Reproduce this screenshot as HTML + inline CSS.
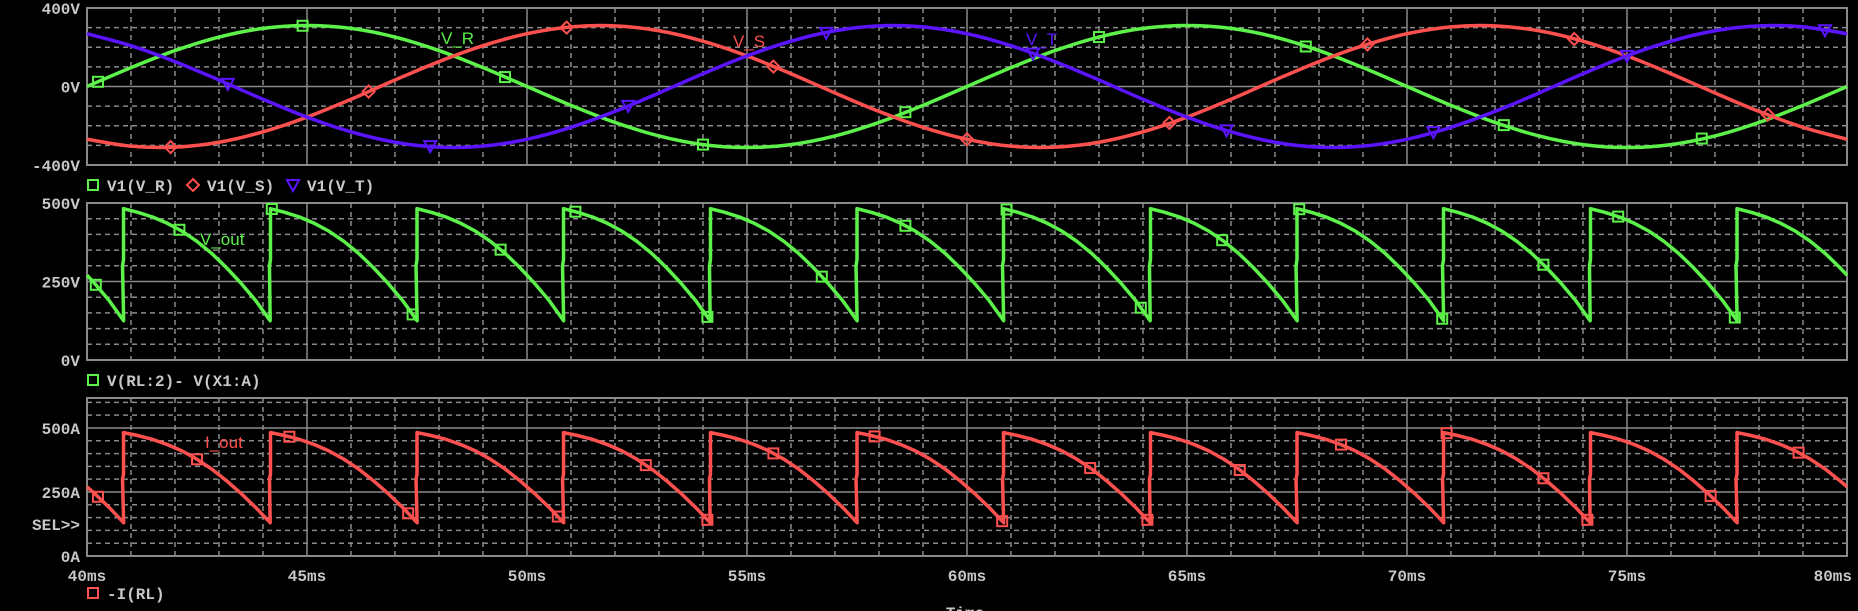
<!DOCTYPE html>
<html><head><meta charset="utf-8"><style>
html,body{margin:0;padding:0;background:#000;}
svg{display:block;}
text{font-family:"Liberation Mono",monospace;font-weight:bold;}
</style></head><body>
<svg id="chart" width="1858" height="611" xmlns="http://www.w3.org/2000/svg">
<rect width="1858" height="611" fill="#000"/>
</svg>
<script>
// ---- data ----
const tStart = 40, tEnd = 80;
const sineTimes = [0,1,2,3,4,5,6,7,8,9,10,11,12,13,14,15,16,17,18,19,20,21,22,23,24,25,26,27,28,29,30,31,32,33,34,35,36,37,38,39,40];
const vR = [0,96,183,252,296,311,296,252,183,96,0,-96,-183,-252,-296,-311,-296,-252,-183,-96,0,96,183,252,296,311,296,252,183,96,0,-96,-183,-252,-296,-311,-296,-252,-183,-96,0];
const vS = [-269,-304,-309,-284,-231,-156,-65,33,127,208,269,304,309,284,231,156,65,-33,-127,-208,-269,-304,-309,-284,-231,-156,-65,33,127,208,269,304,309,284,231,156,65,-33,-127,-208,-269];
const vT = [269,208,127,33,-65,-156,-231,-284,-309,-304,-269,-208,-127,-33,65,156,231,284,309,304,269,208,127,33,-65,-156,-231,-284,-309,-304,-269,-208,-127,-33,65,156,231,284,309,304,269];
const markR = [40.25,44.9,49.5,54,58.6,63,67.7,72.2,76.7];
const markS = [41.9,46.4,50.9,55.6,60,64.6,69.1,73.8,78.2];
const markT = [43.2,47.8,52.3,56.8,61.5,65.9,70.6,75,79.5];
const pulseTimes = [37.5,40.83,44.17,47.5,50.83,54.17,57.5,60.83,64.17,67.5,70.83,74.17,77.5];
const profOffsets = [0,0.333,0.667,1,1.333,1.667,2,2.333,2.667,3,3.333];
const voutProfile = [482,470,455,435,410,378,340,295,245,190,125];
const ioutProfile = [482,470,455,435,410,378,340,295,245,190,130];
const markVout = [40.2,42.1,44.2,47.4,49.4,51.1,54.1,56.7,58.6,60.9,63.95,65.8,67.55,70.8,73.1,74.8,77.45];
const markIout = [40.25,42.5,44.6,47.3,50.7,52.7,54.1,55.6,57.9,60.8,62.8,64.1,66.2,68.5,70.9,73.1,74.1,76.9,78.9];
const yTicks1 = [400,0,-400], yTickLbl1 = ["400V","0V","-400V"];
const yTicks2 = [500,250,0], yTickLbl2 = ["500V","250V","0V"];
const yTicks3 = [500,250,0], yTickLbl3 = ["500A","250A","0A"];
const xTicks = [40,45,50,55,60,65,70,75,80];

// ---- layout ----
const NS="http://www.w3.org/2000/svg", svg=document.getElementById('chart');
const X0=87, X1=1847;
const panels=[
 {top:8,bot:165,min:-400,max:400,step:100,solid:[0]},
 {top:203,bot:360,min:0,max:500,step:50,solid:[0,250,500]},
 {top:398,bot:556,min:0,max:617,step:50,solid:[0,250,500]}
];
const xs=t=>X0+(t-tStart)/(tEnd-tStart)*(X1-X0);
function ys(p,v){return p.bot-(v-p.min)/(p.max-p.min)*(p.bot-p.top);}
function el(tag,attrs,parent){const e=document.createElementNS(NS,tag);for(const k in attrs)e.setAttribute(k,attrs[k]);(parent||svg).appendChild(e);return e;}
const GRID="#8a8a8a", TXT="#c8c8c8";
const GREEN="#5cf24a", RED="#ff5050", BLUE="#5a14ff";

panels.forEach((p,i)=>{
  const g=el('g',{});
  
  
  for(let t=41;t<80;t++){ if(t%5===0) continue;
    const l=el('line',{x1:xs(t),x2:xs(t),y1:p.top,y2:p.bot,stroke:GRID,'stroke-width':1.5,'stroke-dasharray':'5,4'},g);
    
    
  }
  for(let t=45;t<80;t+=5){
    const l=el('line',{x1:xs(t),x2:xs(t),y1:p.top,y2:p.bot,stroke:GRID,'stroke-width':1.5},g);
    
    
  }
  for(let v=p.min;v<=p.max;v+=p.step){
    const y=ys(p,v); if(y<p.top+2||y>p.bot-2) continue;
    const solid=p.solid.includes(v);
    const l=el('line',{x1:X0,x2:X1,y1:y,y2:y,stroke:GRID,'stroke-width':1.5,'stroke-dasharray':solid?'none':'5,4'},g);
    
    
  }
  const r=el('rect',{x:X0,y:p.top,width:X1-X0,height:p.bot-p.top,fill:'none',stroke:GRID,'stroke-width':2},g);
  
  
});
function ylabels(p,ticks,lbls){
  ticks.forEach((v,i)=>{
    const t=el('text',{x:80,y:ys(p,v)+6,'text-anchor':'end','font-size':16,fill:TXT});
    t.textContent=lbls[i];
    
    
  });
}
ylabels(panels[0],yTicks1,yTickLbl1);ylabels(panels[1],yTicks2,yTickLbl2);ylabels(panels[2],yTicks3,yTickLbl3);
{const t=el('text',{x:80,y:ys(panels[2],0)-26,'text-anchor':'end','font-size':16,fill:TXT});t.textContent='SEL>>';

}
xTicks.forEach((v,i)=>{
  const last=i===xTicks.length-1;
  const t=el('text',{x:last?1852:xs(v),y:581,'text-anchor':last?'end':'middle','font-size':16,fill:TXT});
  t.textContent=v+'ms';
  
  
});
{const t=el('text',{x:965,y:618,'text-anchor':'middle','font-size':16,fill:TXT});t.textContent='Time';

}

function interp(ts,vs,t){for(let i=0;i<ts.length-1;i++){if(t>=ts[i]&&t<=ts[i+1]){const f=(t-ts[i])/(ts[i+1]-ts[i]);return vs[i]+f*(vs[i+1]-vs[i]);}}return vs[vs.length-1];}
function smoothPath(p,ts,vs){
  const pts=ts.map((t,i)=>[xs(tStart+t),ys(p,vs[i])]);
  let d='M'+pts[0][0]+','+pts[0][1];
  for(let i=0;i<pts.length-1;i++){
    const p0=pts[Math.max(0,i-1)],p1=pts[i],p2=pts[i+1],p3=pts[Math.min(pts.length-1,i+2)];
    d+=` C${p1[0]+(p2[0]-p0[0])/6},${p1[1]+(p2[1]-p0[1])/6} ${p2[0]-(p3[0]-p1[0])/6},${p2[1]-(p3[1]-p1[1])/6} ${p2[0]},${p2[1]}`;
  }
  return d;
}
function sineVal(vs,t){ return interp(sineTimes,vs,t-tStart); }
function marker(type,x,y,color,name){
  let m;
  if(type==='sq') m=el('rect',{x:x-5,y:y-5,width:10,height:10,fill:'none',stroke:color,'stroke-width':2});
  else if(type==='di') m=el('polygon',{points:`${x},${y-6} ${x+6},${y} ${x},${y+6} ${x-6},${y}`,fill:'none',stroke:color,'stroke-width':2});
  else m=el('polygon',{points:`${x-6},${y-5} ${x+6},${y-5} ${x},${y+6}`,fill:'none',stroke:color,'stroke-width':2});
  
  
}
const series=[[vR,GREEN,'series-v-r','sq',markR],[vS,RED,'series-v-s','di',markS],[vT,BLUE,'series-v-t','tri',markT]];
series.forEach(([vs,c,n,mt,mk])=>{
  const path=el('path',{d:smoothPath(panels[0],sineTimes,vs),fill:'none',stroke:c,'stroke-width':3.5});
  
  
  mk.forEach(t=>marker(mt,xs(t),ys(panels[0],sineVal(vs,t)),c,n+'-marker'));
});

function rippleVal(prof,t){
  let base=pulseTimes[0];
  for(const pt of pulseTimes){ if(pt<=t) base=pt; }
  return interp(profOffsets,prof,t-base);
}
function ripplePath(p,prof){
  let d='';
  pulseTimes.forEach((pt,i)=>{
    profOffsets.forEach((o,j)=>{
      let t=pt+o;
      if(t<tStart){ if(j<profOffsets.length-1 && pt+profOffsets[j+1]>tStart){ t=tStart; } else return; }
      if(t>tEnd) return;
      const v = t===tStart?interp(profOffsets,prof,tStart-pt):prof[j];
      const x=xs(t),y=ys(p,v);
      d+=(d===''?'M':'L')+x+','+y+' ';
    });
    if(i<pulseTimes.length-1 && pulseTimes[i+1]<=tEnd){
      const nt=pulseTimes[i+1];
      d+='L'+(xs(nt)-1)+','+ys(p,300)+' L'+xs(nt)+','+ys(p,320)+' ';
    }
  });
  if(pulseTimes[pulseTimes.length-1]+3.333>tEnd){
    const last=pulseTimes[pulseTimes.length-1];
    d+='L'+xs(tEnd)+','+ys(p,interp(profOffsets,prof,tEnd-last));
  }
  return d;
}
{const path=el('path',{d:ripplePath(panels[1],voutProfile),fill:'none',stroke:GREEN,'stroke-width':3.5,'stroke-linejoin':'round'});


markVout.forEach(t=>marker('sq',xs(t),ys(panels[1],rippleVal(voutProfile,t)),GREEN,'v-out-marker'));}
{const path=el('path',{d:ripplePath(panels[2],ioutProfile),fill:'none',stroke:RED,'stroke-width':3.5,'stroke-linejoin':'round'});


markIout.forEach(t=>marker('sq',xs(t),ys(panels[2],rippleVal(ioutProfile,t)),RED,'i-out-marker'));}

function lbl(x,y,txt,c,n){const t=el('text',{x:x,y:y,'font-size':17,fill:c});t.setAttribute('style','font-family:"Liberation Sans",sans-serif;font-weight:normal');t.textContent=txt;

}
lbl(441,44,'V_R',GREEN,'label-v-r');lbl(733,47,'V_S',RED,'label-v-s');lbl(1026,45,'V_T',BLUE,'label-v-t');
lbl(200,245,'V_out',GREEN,'label-v-out');lbl(205,448,'I_out',RED,'label-i-out');

function legend(x,y,type,c,txt,n){
  marker(type,x,y-6,c,n+'-symbol');
  const t=el('text',{x:x+14,y:y,'font-size':16,fill:TXT});t.textContent=txt;
  
  
}
legend(93,191,'sq',GREEN,'V1(V_R)','legend-v-r');
legend(193,191,'di',RED,'V1(V_S)','legend-v-s');
legend(293,191,'tri',BLUE,'V1(V_T)','legend-v-t');
legend(93,386,'sq',GREEN,'V(RL:2)- V(X1:A)','legend-v-out');
legend(93,599,'sq',RED,'-I(RL)','legend-i-out');
</script>
</body></html>
